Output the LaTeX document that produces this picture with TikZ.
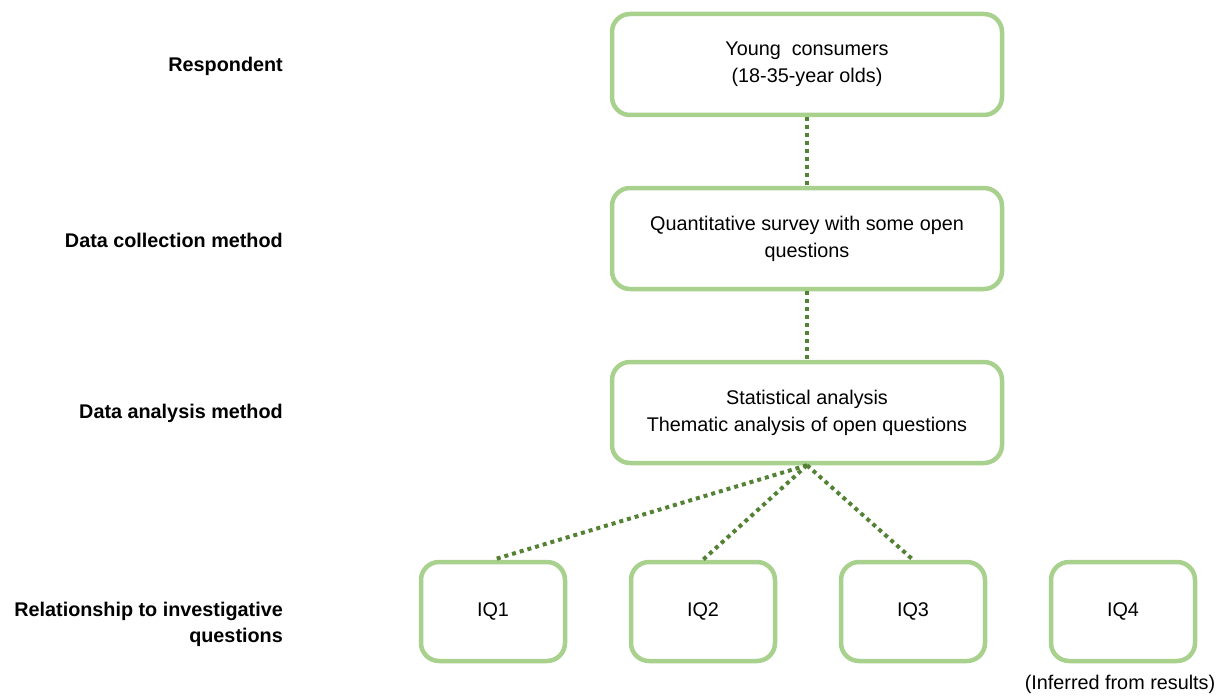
\documentclass[tikz,border=0pt]{standalone}
\usepackage{fontspec}
\setmainfont{Liberation Sans}
\definecolor{boxgreen}{RGB}{169,209,142}
\definecolor{linegreen}{RGB}{84,130,53}
\begin{document}
\begin{tikzpicture}[x=1pt,y=-1pt,
  box/.style={draw=boxgreen,line width=4.5pt,rounded corners=18pt,fill=white,align=center,font=\fontsize{19.8}{27}\selectfont,inner sep=0pt},
  bigbox/.style={box,minimum width=390pt,minimum height=101pt},
  iqbox/.style={box,minimum width=144pt,minimum height=99pt},
  lbl/.style={anchor=east,align=right,inner sep=0pt,font=\fontsize{19.8}{26}\selectfont\bfseries},
  conn/.style={draw=linegreen,line width=4pt,dash pattern=on 4pt off 4pt}]
\useasboundingbox (0,0) rectangle (1231,698);
\node[bigbox] (resp) at (807,64.5) {Young\ \ consumers\\(18-35-year olds)};
\node[bigbox] (coll) at (807,238.5) {Quantitative survey with some open\\questions};
\node[bigbox] (anal) at (807,412.5) {Statistical analysis\\Thematic analysis of open questions};
\node[iqbox] (iq1) at (493,611.5) {IQ1};
\node[iqbox] (iq2) at (703,611.5) {IQ2};
\node[iqbox] (iq3) at (913,611.5) {IQ3};
\node[iqbox] (iq4) at (1123,611.5) {IQ4};
\node[font=\fontsize{19.8}{24}\selectfont,inner sep=0pt] (inf) at (1120,684) {(Inferred from results)};
\node[lbl] (l1) at (283,66) {Respondent};
\node[lbl] (l2) at (283,240) {Data collection method};
\node[lbl] (l3) at (283,413) {Data analysis method};
\node[lbl] (l4) at (283,624) {Relationship to investigative\\questions};
\path[conn] (resp.south) -- (coll.north);
\path[conn] (coll.south) -- (anal.north);
\path[conn] (anal.south) -- (iq1.north);
\path[conn] (anal.south) -- (iq2.north);
\path[conn] (anal.south) -- (iq3.north);
\end{tikzpicture}
\end{document}
